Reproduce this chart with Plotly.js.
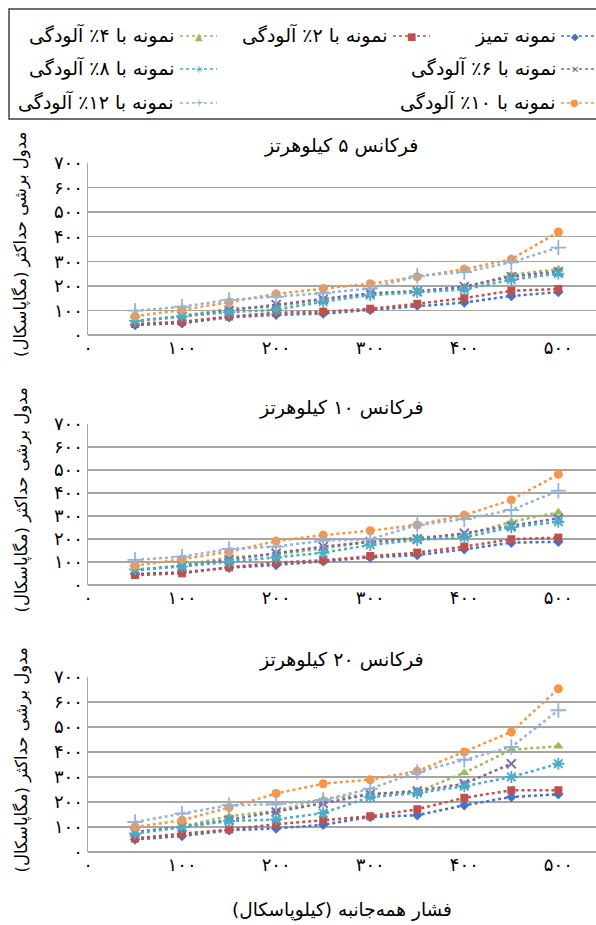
<!DOCTYPE html>
<html><head><meta charset="utf-8">
<script src="https://cdn.plot.ly/plotly-3.0.1.min.js"></script>
<style>html,body{margin:0;padding:0;background:#fff;}#chart{width:596px;height:925px;}</style>
</head><body><div id="chart"></div>
<script>
// ---------- data ----------
const pressure = [50, 100, 150, 200, 250, 300, 350, 400, 450, 500];
const xTickVals = [0, 100, 200, 300, 400, 500];
const xTickText = ['۰', '۱۰۰', '۲۰۰', '۳۰۰', '۴۰۰', '۵۰۰'];
const yTickVals = [0, 100, 200, 300, 400, 500, 600, 700];
const yTickText = ['۰', '۱۰۰', '۲۰۰', '۳۰۰', '۴۰۰', '۵۰۰', '۶۰۰', '۷۰۰'];
const seriesNames = ['نمونه تمیز', 'نمونه با ۲٪ آلودگی', 'نمونه با ۴٪ آلودگی', 'نمونه با ۶٪ آلودگی',
                     'نمونه با ۸٪ آلودگی', 'نمونه با ۱۰٪ آلودگی', 'نمونه با ۱۲٪ آلودگی'];
const panelTitles = ['فرکانس ۵ کیلوهرتز', 'فرکانس ۱۰ کیلوهرتز', 'فرکانس ۲۰ کیلوهرتز'];
const yTitle = 'مدول برشی حداکثر (مگاپاسکال)';
const xTitle = 'فشار همه‌جانبه (کیلوپاسکال)';

// 5 kHz
const f5_clean = [41, 48, 72, 82, 87, 102, 120, 132, 159, 175];
const f5_p2    = [45, 54, 75, 91, 95, 107, 127, 150, 180, 187];
const f5_p4    = [55, 78, 108, 115, 145, 168, 180, 193, 245, 268];
const f5_p6    = [57, 75, 100, 124, 145, 170, 177, 197, 238, 258];
const f5_p8    = [58, 76, 93, 102, 136, 162, 175, 185, 225, 250];
const f5_p10   = [77, 102, 134, 167, 189, 209, 237, 268, 308, 419];
const f5_p12   = [99, 115, 143, 155, 170, 190, 240, 256, 296, 356];
// 10 kHz
const f10_clean = [48, 55, 75, 87, 103, 120, 130, 155, 184, 188];
const f10_p2    = [43, 51, 77, 97, 108, 126, 141, 167, 199, 206];
const f10_p4    = [62, 87, 120, 133, 159, 188, 207, 217, 275, 316];
const f10_p6    = [65, 83, 110, 138, 167, 188, 200, 225, 257, 290];
const f10_p8    = [68, 80, 101, 119, 140, 174, 196, 207, 251, 275];
const f10_p10   = [84, 112, 145, 191, 217, 236, 261, 304, 370, 481];
const f10_p12   = [109, 123, 157, 167, 193, 199, 261, 286, 326, 410];
// 20 kHz
const f20_clean = [50, 64, 87, 94, 109, 140, 147, 187, 220, 231];
const f20_p2    = [54, 74, 90, 111, 127, 143, 171, 217, 247, 247];
const f20_p4    = [78, 103, 143, 165, 212, 232, 240, 317, 409, 423];
const f20_p6    = [80, 100, 128, 160, 195, 231, 244, 273, 353, null];
const f20_p8    = [74, 100, 124, 130, 156, 220, 236, 263, 300, 353];
const f20_p10   = [100, 127, 178, 234, 273, 289, 323, 400, 480, 653];
const f20_p12   = [120, 154, 187, 191, 208, 253, 320, 369, 420, 567];

const panelData = [
  [f5_clean, f5_p2, f5_p4, f5_p6, f5_p8, f5_p10, f5_p12],
  [f10_clean, f10_p2, f10_p4, f10_p6, f10_p8, f10_p10, f10_p12],
  [f20_clean, f20_p2, f20_p4, f20_p6, f20_p8, f20_p10, f20_p12]
];

// ---------- styles ----------
const W = 596, H = 925;
const FONT = 'DejaVu Sans';
const RLM = '\u200F';
const colors = ['#4472C4', '#C0504D', '#9BBB59', '#8064A2', '#4BACC6', '#F79646', '#95B3D7'];
const symbols = ['diamond', 'square', 'triangle-up', 'x-thin', 'asterisk', 'circle', 'cross-thin'];
const msizes = [8, 8, 9, 9, 10, 9, 11];
const glyphs = ['◆', '■', '▲', '✕', '✳', '●', '+'];
const plotLeft = 88;
const panels = [
  {top: 163, bottom: 335, titleY: 146},
  {top: 424, bottom: 585, titleY: 408},
  {top: 677, bottom: 852, titleY: 659}
];
const gridColor = '#A6A6A6';

const px2x = p => p / W;
const px2y = p => 1 - p / H;

const traces = [];
const layout = {
  width: W, height: H,
  margin: {l: 0, r: 0, t: 0, b: 0},
  paper_bgcolor: '#fff', plot_bgcolor: '#fff',
  showlegend: false,
  font: {family: FONT, color: '#000'},
  annotations: [], shapes: []
};

panels.forEach((p, i) => {
  const ax = i === 0 ? '' : String(i + 1);
  panelData[i].forEach((vals, s) => {
    traces.push({
      type: 'scatter', mode: 'lines+markers',
      x: pressure, y: vals, name: seriesNames[s],
      xaxis: 'x' + ax, yaxis: 'y' + ax,
      line: {color: colors[s], width: 2.5, dash: 'dot'},
      marker: {symbol: symbols[s], size: msizes[s], color: colors[s],
               line: {color: colors[s], width: (s === 3 || s === 4 || s === 6) ? 1.8 : 0}},
      cliponaxis: false
    });
  });
  layout['xaxis' + ax] = {
    domain: [px2x(plotLeft), 1], anchor: 'y' + ax, range: [0, 540],
    tickmode: 'array', tickvals: xTickVals, ticktext: xTickText,
    showgrid: false, zeroline: false, showline: false, ticks: '',
    tickfont: {family: FONT, size: 18, color: '#000'}, fixedrange: true
  };
  layout['yaxis' + ax] = {
    domain: [px2y(p.bottom), px2y(p.top)], anchor: 'x' + ax, range: [0, 700],
    tickmode: 'array', tickvals: yTickVals, ticktext: yTickText,
    showgrid: true, gridcolor: gridColor, gridwidth: 1.5,
    zeroline: true, zerolinecolor: gridColor, zerolinewidth: 1.5,
    showline: true, linecolor: gridColor, linewidth: 1.5, ticks: '',
    tickfont: {family: FONT, size: 18, color: '#000'}, fixedrange: true
  };
  layout.annotations.push({
    xref: 'paper', yref: 'paper', x: px2x(341), y: px2y(p.titleY),
    xanchor: 'center', yanchor: 'middle', showarrow: false,
    text: RLM + panelTitles[i] + RLM, font: {family: FONT, size: 19, color: '#000'}
  });
  layout.annotations.push({
    xref: 'paper', yref: 'paper', x: px2x(21), y: px2y((p.top + p.bottom) / 2 - 4),
    xanchor: 'center', yanchor: 'middle', showarrow: false, textangle: -90,
    text: RLM + yTitle + RLM, font: {family: FONT, size: 16.5, color: '#000'}
  });
});

layout.annotations.push({
  xref: 'paper', yref: 'paper', x: px2x(342), y: px2y(910),
  xanchor: 'center', yanchor: 'middle', showarrow: false,
  text: RLM + xTitle + RLM, font: {family: FONT, size: 18.5, color: '#000'}
});

// ---------- legend (manual, RTL: text then sample on its right) ----------
layout.shapes.push({
  type: 'rect', xref: 'paper', yref: 'paper',
  x0: px2x(9), x1: 1.02, y0: px2y(119), y1: px2y(9),
  line: {color: '#404040', width: 1.5}, fillcolor: 'rgba(0,0,0,0)'
});
const legRows = [35, 68, 102];
const legEntries = [
  {row: 0, textRight: 558, sx0: 561, sx1: 598},
  {row: 0, textRight: 389, sx0: 393, sx1: 430},
  {row: 0, textRight: 176, sx0: 180, sx1: 217},
  {row: 1, textRight: 558, sx0: 561, sx1: 598},
  {row: 1, textRight: 176, sx0: 180, sx1: 217},
  {row: 2, textRight: 558, sx0: 561, sx1: 598},
  {row: 2, textRight: 176, sx0: 180, sx1: 217}
];
legEntries.forEach((e, s) => {
  const y = legRows[e.row];
  layout.annotations.push({
    xref: 'paper', yref: 'paper', x: px2x(e.textRight), y: px2y(y),
    xanchor: 'right', yanchor: 'middle', showarrow: false,
    text: RLM + seriesNames[s] + RLM, font: {family: FONT, size: 19, color: '#000'}
  });
  layout.shapes.push({
    type: 'line', xref: 'paper', yref: 'paper',
    x0: px2x(e.sx0), x1: px2x(e.sx1), y0: px2y(y + 1), y1: px2y(y + 1),
    line: {color: colors[s], width: 1.5, dash: 'dot'}
  });
  layout.annotations.push({
    xref: 'paper', yref: 'paper', x: px2x((e.sx0 + Math.min(e.sx1, 592)) / 2 + (e.sx1 > 596 ? -2 : 0)), y: px2y(y + 1),
    xanchor: 'center', yanchor: 'middle', showarrow: false,
    text: glyphs[s], font: {family: FONT, size: 10, color: colors[s]}
  });
});

Plotly.newPlot('chart', traces, layout, {displayModeBar: false, staticPlot: true});
</script></body></html>
